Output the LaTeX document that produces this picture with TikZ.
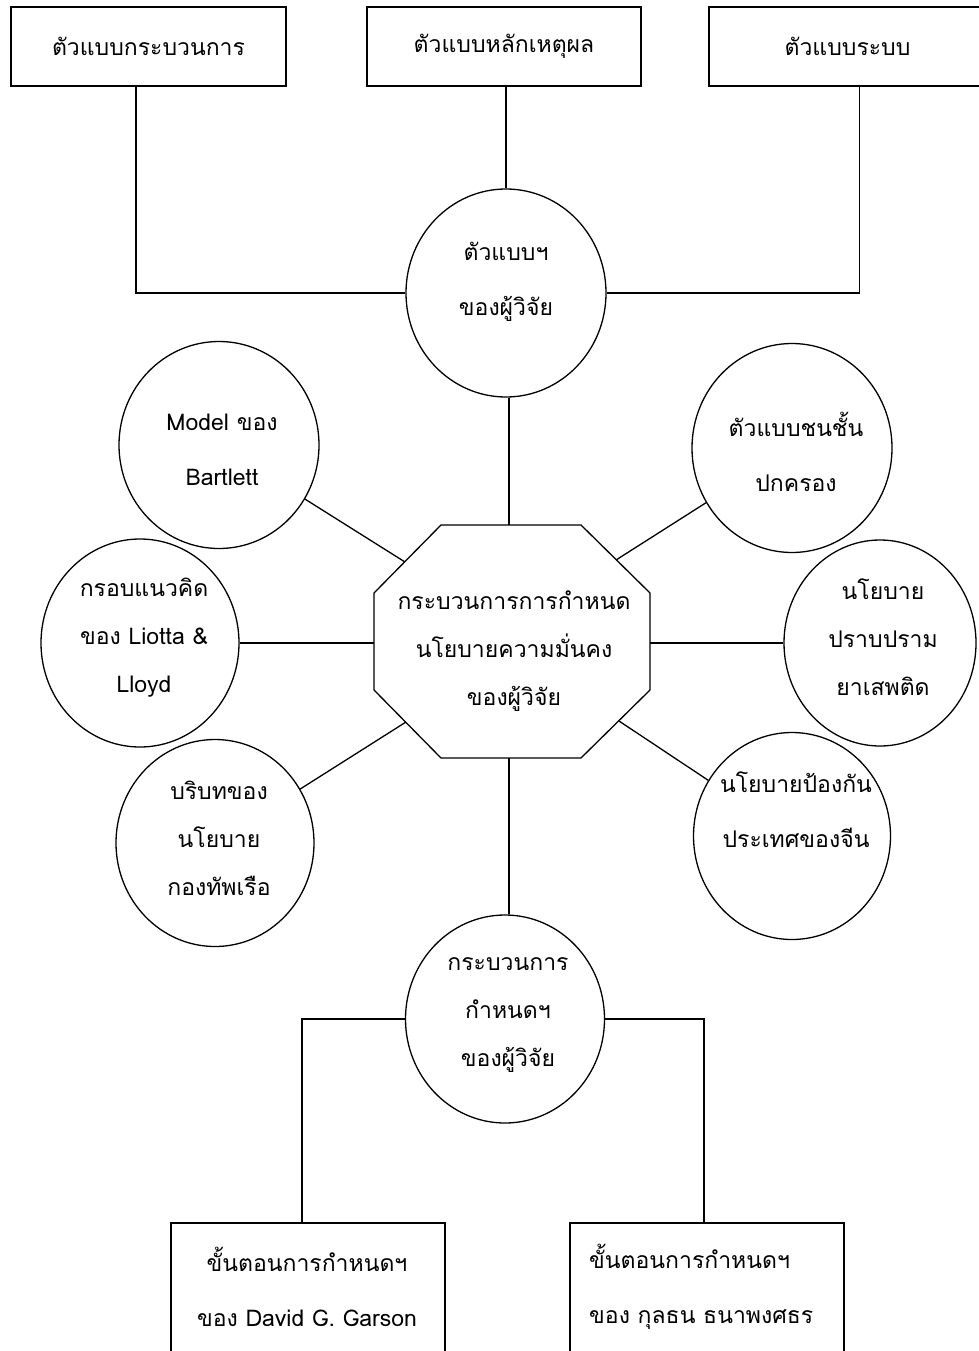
\documentclass[tikz,border=0pt]{standalone}
\usepackage{fontspec}
\newfontfamily\thai[Script=Thai]{Loma}
\usetikzlibrary{shapes.geometric}
\begin{document}
\begin{tikzpicture}[x=1pt,y=-1pt,
  line/.style={line width=1.3pt},
  box/.style={draw, line width=1.3pt, rectangle, inner sep=0pt},
  circ/.style={draw, line width=1.3pt, ellipse, inner sep=0pt},
  txt/.style={font=\thai\fontsize{23}{48}\selectfont, align=center, inner sep=0pt},
  txtw/.style={font=\thai\fontsize{23}{55}\selectfont, align=center, inner sep=0pt},
]
\useasboundingbox (0,0) rectangle (979,1351);
\clip (0,0) rectangle (979,1351);
\fill[white] (0,0) rectangle (979,1351);

% top boxes
\node[box, minimum width=275pt, minimum height=79pt, txt] (b1) at (148.5,46.5) {ตัวแบบกระบวนการ};
\node[box, minimum width=274pt, minimum height=79pt, txt] (b2) at (504,46.5) {ตัวแบบหลักเหตุผล};
\node[box, minimum width=277pt, minimum height=79pt, txt] (b3) at (847.5,46.5) {ตัวแบบระบบ};

% circles
\node[circ, minimum width=200pt, minimum height=208pt] (top) at (506,293) {};
\node[circ, minimum width=200pt, minimum height=207pt] (model) at (219,445) {};
\node[circ, minimum width=200pt, minimum height=209pt] (ur) at (792,448) {};
\node[circ, minimum width=198pt, minimum height=208pt] (liotta) at (140,643) {};
\node[circ, minimum width=192pt, minimum height=206pt] (rm) at (880,643) {};
\node[circ, minimum width=198pt, minimum height=207pt] (ll) at (215,843) {};
\node[circ, minimum width=197pt, minimum height=207pt] (lr) at (792,836) {};
\node[circ, minimum width=199pt, minimum height=208pt] (bot) at (505,1019) {};

% octagon
\draw[line] (441,525) -- (581,525) -- (650,593) -- (650,690) -- (581,758)
  -- (441,758) -- (374,690) -- (374,593) -- cycle;
\coordinate (oT) at (509,525);
\coordinate (oB) at (509,758);
\coordinate (oL) at (374,643);
\coordinate (oR) at (650,643);
\coordinate (oUL) at (405,562);
\coordinate (oUR) at (616,560);
\coordinate (oLL) at (406,722);
\coordinate (oLR) at (619,721);

% bottom boxes
\node[box, minimum width=274pt, minimum height=177pt] (bl) at (308,1311.5) {};
\node[box, minimum width=274pt, minimum height=177pt] (br) at (707,1311.5) {};

% texts
\node[txtw] (ttop) at (506,281.5) {ตัวแบบฯ\\ของผู้วิจัย};
\node[txtw] (tmodel) at (222,450) {Model ของ\\Bartlett};
\node[txtw] (tur) at (796,452) {ตัวแบบชนชั้น\\ปกครอง};
\node[txt] (tliotta) at (144,638) {กรอบแนวคิด\\ของ Liotta \&\\Lloyd};
\node[txt] (trm) at (883,637) {นโยบาย\\ปราบปราม\\ยาเสพติด};
\node[txt] (toct) at (514,651) {กระบวนการการกำหนด\\นโยบายความมั่นคง\\ของผู้วิจัย};
\node[txt] (tll) at (219,838) {บริบทของ\\นโยบาย\\กองทัพเรือ};
\node[txtw] (tlr) at (796,810) {นโยบายป้องกัน\\ประเทศของจีน};
\node[txt] (tbot) at (508,1015) {กระบวนการ\\กำหนดฯ\\ของผู้วิจัย};
\node[txtw] (tbl) at (307,1286.5) {ขั้นตอนการกำหนดฯ\\ของ David G. Garson};
\node[txtw, align=left, anchor=west] (tbr) at (589,1286.5) {ขั้นตอนการกำหนดฯ\\ของ กุลธน ธนาพงศธร};

% connectors
\draw[line] ([xshift=-12.5pt]b1.south) |- (top.west);
\draw[line] (top.north |- b2.south) -- (top.north);
\draw[line] ([xshift=12pt]b3.south) |- (top.east);
\draw[line] (top.south -| oT) -- (oT);
\draw[line] (model) -- (oUL);
\draw[line] (ur) -- (oUR);
\draw[line] (liotta) -- (oL);
\draw[line] (rm) -- (oR);
\draw[line] (ll) -- (oLL);
\draw[line] (lr) -- (oLR);
\draw[line] (oB) -- (oB |- bot.north);
\draw[line] (bot.west) -| ([xshift=-6pt]bl.north);
\draw[line] (bot.east) -| ([xshift=-3pt]br.north);
\end{tikzpicture}
\end{document}
